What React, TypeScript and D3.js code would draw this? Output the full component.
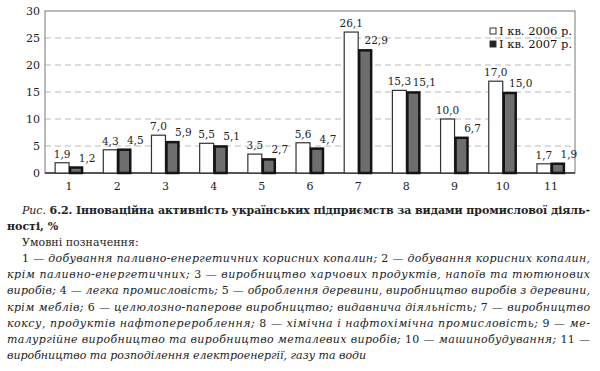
import { useEffect, useRef } from 'react'
import * as d3 from 'd3'

const categories = ['1', '2', '3', '4', '5', '6', '7', '8', '9', '10', '11']
const values2006 = [1.9, 4.3, 7.0, 5.5, 3.5, 5.6, 26.1, 15.3, 10.0, 17.0, 1.7]
const values2007 = [1.2, 4.5, 5.9, 5.1, 2.7, 4.7, 22.9, 15.1, 6.7, 15.0, 1.9]
const seriesNames = ['I кв. 2006 р.', 'I кв. 2007 р.']
const yTicks = [0, 5, 10, 15, 20, 25, 30]

const captionLines = [
  'Рис. 6.2. Інноваційна активність українських підприємств за видами промислової діяль-',
  'ності, %',
]
const legendHeading = 'Умовні позначення:'
const legendLines = [
  '1 — добування паливно-енергетичних корисних копалин; 2 — добування корисних копалин,',
  'крім паливно-енергетичних; 3 — виробництво харчових продуктів, напоїв та тютюнових',
  'виробів; 4 — легка промисловість; 5 — оброблення деревини, виробництво виробів з деревини,',
  'крім меблів; 6 — целюлозно-паперове виробництво; видавнича діяльність; 7 — виробництво',
  'коксу, продуктів нафтоперероблення; 8 — хімічна і нафтохімічна промисловість; 9 — ме-',
  'талургійне виробництво та виробництво металевих виробів; 10 — машинобудування; 11 —',
  'виробництво та розподілення електроенергії, газу та води',
]

const W = 600
const H = 371
const serif = '"DejaVu Serif", serif'
const ink = '#222'

export default function App() {
  const svgRef = useRef<SVGSVGElement | null>(null)

  useEffect(() => {
    const svgEl = svgRef.current
    if (!svgEl) return
    const svg = d3.select(svgEl)
    svg.selectAll('*').remove()

    const plot = { left: 45, right: 575, top: 11, bottom: 173 }
    const fmt = (v: number) => d3.format('.1f')(v).replace('.', ',')

    const x = d3
      .scaleBand<string>()
      .domain(categories)
      .range([plot.left, plot.right])
      .paddingInner(0.42)
      .paddingOuter(0.21)
    const xSub = d3.scaleBand<string>().domain(['a', 'b']).range([0, x.bandwidth()])
    const y = d3.scaleLinear().domain([0, 30]).range([plot.bottom, plot.top])

    // grid
    svg
      .append('g')
      .selectAll('line')
      .data(yTicks.filter((t) => t > 0 && t < 30))
      .join('line')
      .attr('x1', plot.left)
      .attr('x2', plot.right)
      .attr('y1', (d) => y(d))
      .attr('y2', (d) => y(d))
      .attr('stroke', '#bbb')
      .attr('stroke-dasharray', '6,4')

    // frame
    svg
      .append('rect')
      .attr('x', plot.left)
      .attr('y', plot.top)
      .attr('width', plot.right - plot.left)
      .attr('height', plot.bottom - plot.top)
      .attr('fill', 'none')
      .attr('stroke', '#777')
    svg
      .append('line')
      .attr('x1', plot.left)
      .attr('x2', plot.right)
      .attr('y1', plot.bottom)
      .attr('y2', plot.bottom)
      .attr('stroke', '#333')
      .attr('stroke-width', 1.5)

    // y labels
    svg
      .append('g')
      .selectAll('text')
      .data(yTicks)
      .join('text')
      .attr('x', 40)
      .attr('y', (d) => y(d))
      .attr('dy', '0.35em')
      .attr('text-anchor', 'end')
      .attr('font-family', serif)
      .attr('font-size', 11)
      .attr('fill', ink)
      .text((d) => d)

    // x labels
    svg
      .append('g')
      .selectAll('text')
      .data(categories)
      .join('text')
      .attr('x', (d) => (x(d) ?? 0) + x.bandwidth() / 2)
      .attr('y', 190)
      .attr('text-anchor', 'middle')
      .attr('font-family', serif)
      .attr('font-size', 11)
      .attr('fill', ink)
      .text((d) => d)

    const bw = xSub.bandwidth()
    const groups = svg
      .append('g')
      .selectAll('g')
      .data(categories)
      .join('g')
      .attr('transform', (d) => `translate(${x(d)},0)`)

    groups
      .append('rect')
      .attr('x', xSub('a') ?? 0)
      .attr('y', (_, i) => y(values2006[i]))
      .attr('width', bw)
      .attr('height', (_, i) => y(0) - y(values2006[i]))
      .attr('fill', '#fff')
      .attr('stroke', '#333')
      .attr('stroke-width', 1.2)

    // dark bars: black edge, grey middle
    groups
      .append('rect')
      .attr('x', (xSub('b') ?? 0) + 1)
      .attr('y', (_, i) => y(values2007[i]) + 1)
      .attr('width', bw - 2)
      .attr('height', (_, i) => Math.max(0, y(0) - y(values2007[i]) - 1))
      .attr('fill', '#6e6e6e')
      .attr('stroke', '#141414')
      .attr('stroke-width', 2.5)

    groups
      .append('text')
      .attr('x', (xSub('a') ?? 0) + bw / 2)
      .attr('y', (_, i) => y(values2006[i]) - 5)
      .attr('text-anchor', 'middle')
      .attr('font-family', serif)
      .attr('font-size', 10.5)
      .attr('fill', ink)
      .text((_, i) => fmt(values2006[i]))

    groups
      .append('text')
      .attr('x', (xSub('b') ?? 0) + bw / 2 + 11)
      .attr('y', (_, i) => y(values2007[i]) - 5)
      .attr('text-anchor', 'middle')
      .attr('font-family', serif)
      .attr('font-size', 10.5)
      .attr('fill', ink)
      .text((_, i) => fmt(values2007[i]))

    // legend
    const legend = svg.append('g').attr('transform', 'translate(490,31)')
    seriesNames.forEach((name, i) => {
      const row = legend.append('g').attr('transform', `translate(0,${i * 13})`)
      row
        .append('rect')
        .attr('x', 0)
        .attr('y', -3)
        .attr('width', 6)
        .attr('height', 6)
        .attr('fill', i === 0 ? '#fff' : '#222')
        .attr('stroke', '#333')
      row
        .append('text')
        .attr('x', 9)
        .attr('y', 0)
        .attr('dy', '0.35em')
        .attr('font-family', serif)
        .attr('font-size', 11.5)
        .attr('fill', '#111')
        .text(name)
    })

    // caption
    const cap = svg.append('g').attr('font-family', serif).attr('font-size', 11).attr('fill', ink)
    const t1 = cap
      .append('text')
      .attr('x', 22)
      .attr('y', 214)
      .attr('textLength', 568)
      .attr('lengthAdjust', 'spacing')
    t1.append('tspan').attr('font-style', 'italic').text(captionLines[0].slice(0, 4))
    t1.append('tspan').attr('font-weight', 'bold').text(captionLines[0].slice(4))
    cap.append('text').attr('x', 7).attr('y', 230).attr('font-weight', 'bold').text(captionLines[1])
    cap.append('text').attr('x', 22).attr('y', 246).text(legendHeading)

    legendLines.forEach((line, i) => {
      const x0 = i === 0 ? 22 : 7
      const last = i === legendLines.length - 1
      const t = cap
        .append('text')
        .attr('x', x0)
        .attr('y', 262 + i * 16.2)
      if (!last) t.attr('textLength', 590 - x0).attr('lengthAdjust', 'spacing')
      line
        .split(/(\d+ —)/)
        .filter((s) => s.length > 0)
        .forEach((part) => {
          t.append('tspan')
            .attr('font-style', /^\d+ —$/.test(part) ? 'normal' : 'italic')
            .text(part)
        })
    })
  }, [])

  return (
    <svg
      ref={svgRef}
      width={W}
      height={H}
      viewBox={`0 0 ${W} ${H}`}
      style={{ position: 'absolute', left: 0, top: 0, background: '#fff' }}
    />
  )
}
